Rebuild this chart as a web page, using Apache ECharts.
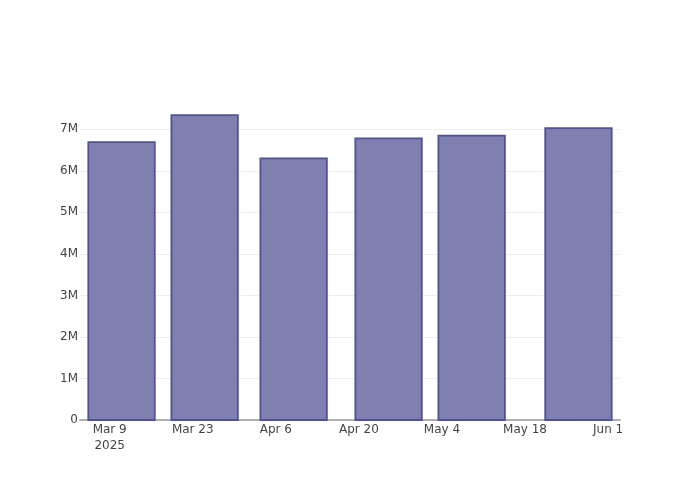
<!DOCTYPE html>
<html>
<head>
<meta charset="utf-8">
<script src="https://cdn.jsdelivr.net/npm/echarts@6/dist/echarts.min.js"></script>
<style>html,body{margin:0;padding:0;background:#fff}#c{width:700px;height:500px}</style>
</head>
<body>
<div id="c"></div>
<script>
// Data
const dates = ['2025-03-11', '2025-03-25', '2025-04-09', '2025-04-25', '2025-05-09', '2025-05-27'];
const values = [6690000, 7340000, 6300000, 6780000, 6845000, 7030000];
const tickStart = '2025-03-09';
const tickStepDays = 14;
const monthNames = ['Jan','Feb','Mar','Apr','May','Jun','Jul','Aug','Sep','Oct','Nov','Dec'];

const DAY = 86400000;
function toUTC(s){ const p = s.split('-').map(Number); return Date.UTC(p[0], p[1]-1, p[2]); }
const base = toUTC(tickStart);
const dayOffsets = dates.map(d => (toUTC(d) - base) / DAY);
const seriesData = dayOffsets.map((x, i) => [x, values[i]]);

const barHalfWidth = tickStepDays * 0.8 / 2; // days

const chart = echarts.init(document.getElementById('c'), null, {renderer: 'canvas'});
chart.setOption({
  animation: false,
  backgroundColor: '#fff',
  grid: {left: 80, right: 80, top: 100, bottom: 80, containLabel: false},
  xAxis: {
    type: 'value',
    min: -5,
    max: 86,
    interval: 1,
    axisLine: {show: true, onZero: false, lineStyle: {color: '#b0b0b0', width: 2}},
    axisTick: {show: false},
    splitLine: {show: false},
    axisLabel: {
      show: true,
      color: '#444',
      fontFamily: 'DejaVu Sans',
      fontSize: 12,
      lineHeight: 16,
      margin: 2,
      formatter: function (v) {
        const r = Math.round(v);
        if (Math.abs(v - r) > 1e-6 || r % tickStepDays !== 0 || r < 0) return '';
        const d = new Date(base + r * DAY);
        let s = monthNames[d.getUTCMonth()] + ' ' + d.getUTCDate();
        if (r === 0) s += '\n' + d.getUTCFullYear();
        return s;
      }
    }
  },
  yAxis: {
    type: 'value',
    min: 0,
    max: 7705000,
    interval: 1000000,
    axisLine: {show: false},
    axisTick: {show: false},
    splitLine: {show: true, showMaxLine: false, lineStyle: {color: '#eeeeee', width: 1}},
    axisLabel: {
      color: '#444',
      fontFamily: 'DejaVu Sans',
      fontSize: 12,
      margin: 2,
      showMaxLabel: false,
      formatter: function (v) {
        if (v === 0) return '0';
        if (v % 1000000 !== 0) return '';
        return (v / 1000000) + 'M';
      }
    }
  },
  series: [{
    type: 'custom',
    data: seriesData,
    encode: {x: 0, y: 1},
    renderItem: function (params, api) {
      const x = api.value(0), y = api.value(1);
      const p0 = api.coord([x - barHalfWidth, y]);
      const p1 = api.coord([x + barHalfWidth, 0]);
      return {
        type: 'rect',
        shape: {x: p0[0], y: p0[1], width: p1[0] - p0[0], height: p1[1] - p0[1]},
        style: {fill: '#7f7fb0', stroke: '#51519a', lineWidth: 1.8}
      };
    }
  }]
});
</script>
</body>
</html>
